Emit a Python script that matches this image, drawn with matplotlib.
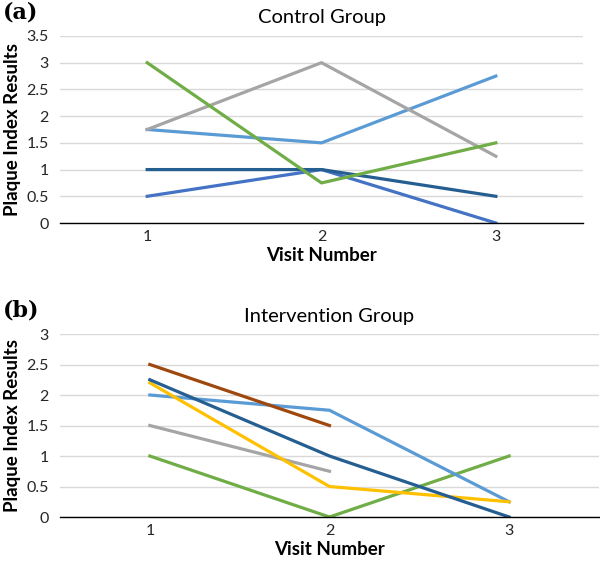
import matplotlib
matplotlib.use("Agg")
import matplotlib.pyplot as plt
import numpy as np

plt.rcParams['font.family'] = ['Lato', 'DejaVu Sans']

visits = [1, 2, 3]

# control group
ctrl_green = [3, 0.75, 1.5]
ctrl_grey = [1.75, 3, 1.25]
ctrl_lightblue = [1.75, 1.5, 2.75]
ctrl_darkblue = [1, 1, 0.5]
ctrl_blue = [0.5, 1, 0]

# intervention group
int_brown = [2.5, 1.5, np.nan]
int_darkblue = [2.25, 1, 0]
int_yellow = [2.2, 0.5, 0.25]
int_lightblue = [2, 1.75, 0.25]
int_grey = [1.5, 0.75, np.nan]
int_green = [1, 0, 1]

fig = plt.figure(figsize=(6, 5.64), dpi=100)
ax1 = fig.add_axes([0.1, 0.6046, 0.8717, 0.3316])
ax2 = fig.add_axes([0.1, 0.0833, 0.8983, 0.3245])

lw = 2.3
ax1.plot(visits, ctrl_blue, color='#4472C4', lw=lw)
ax1.plot(visits, ctrl_darkblue, color='#255E91', lw=lw)
ax1.plot(visits, ctrl_lightblue, color='#5B9BD5', lw=lw)
ax1.plot(visits, ctrl_grey, color='#A5A5A5', lw=lw)
ax1.plot(visits, ctrl_green, color='#70AD47', lw=lw)

ax2.plot(visits, int_green, color='#70AD47', lw=lw)
ax2.plot(visits, int_grey, color='#A5A5A5', lw=lw)
ax2.plot(visits, int_lightblue, color='#5B9BD5', lw=lw)
ax2.plot(visits, int_yellow, color='#FFC000', lw=lw)
ax2.plot(visits, int_darkblue, color='#255E91', lw=lw)
ax2.plot(visits, int_brown, color='#9E480E', lw=lw)

ax1.set_ylim(0, 3.5)
ax1.set_yticks(np.arange(0, 3.51, 0.5))
ax1.set_yticklabels(['0', '0.5', '1', '1.5', '2', '2.5', '3', '3.5'])
ax2.set_ylim(0, 3)
ax2.set_yticks(np.arange(0, 3.01, 0.5))
ax2.set_yticklabels(['0', '0.5', '1', '1.5', '2', '2.5', '3'])

for ax, title, letter, ly in [(ax1, 'Control Group', '(a)', 0.978),
                              (ax2, 'Intervention Group', '(b)', 0.45)]:
    ax.set_xlim(0.5, 3.5)
    ax.set_xticks(visits)
    ax.set_xticklabels(['1', '2', '3'])
    ax.grid(axis='y', color='#D9D9D9', lw=1)
    ax.set_axisbelow(True)
    for s in ['top', 'right', 'left']:
        ax.spines[s].set_visible(False)
    ax.spines['bottom'].set_color('#000000')
    ax.spines['bottom'].set_linewidth(1)
    ax.tick_params(length=0, labelsize=11.5, colors='#262626')
    ax.tick_params(axis='x', pad=5)
    ax.tick_params(axis='y', pad=8)
    ax.set_title(title, fontsize=14.5, pad=9)
    ax.set_xlabel('Visit Number', fontsize=13.5, fontweight='bold', labelpad=2)
    ax.set_ylabel('Plaque Index Results', fontsize=13.5, fontweight='bold', labelpad=4)
    fig.text(0.004, ly, letter, fontsize=16, fontweight='bold',
             family='DejaVu Serif', va='center', ha='left')

fig.savefig('out.png', dpi=100)
